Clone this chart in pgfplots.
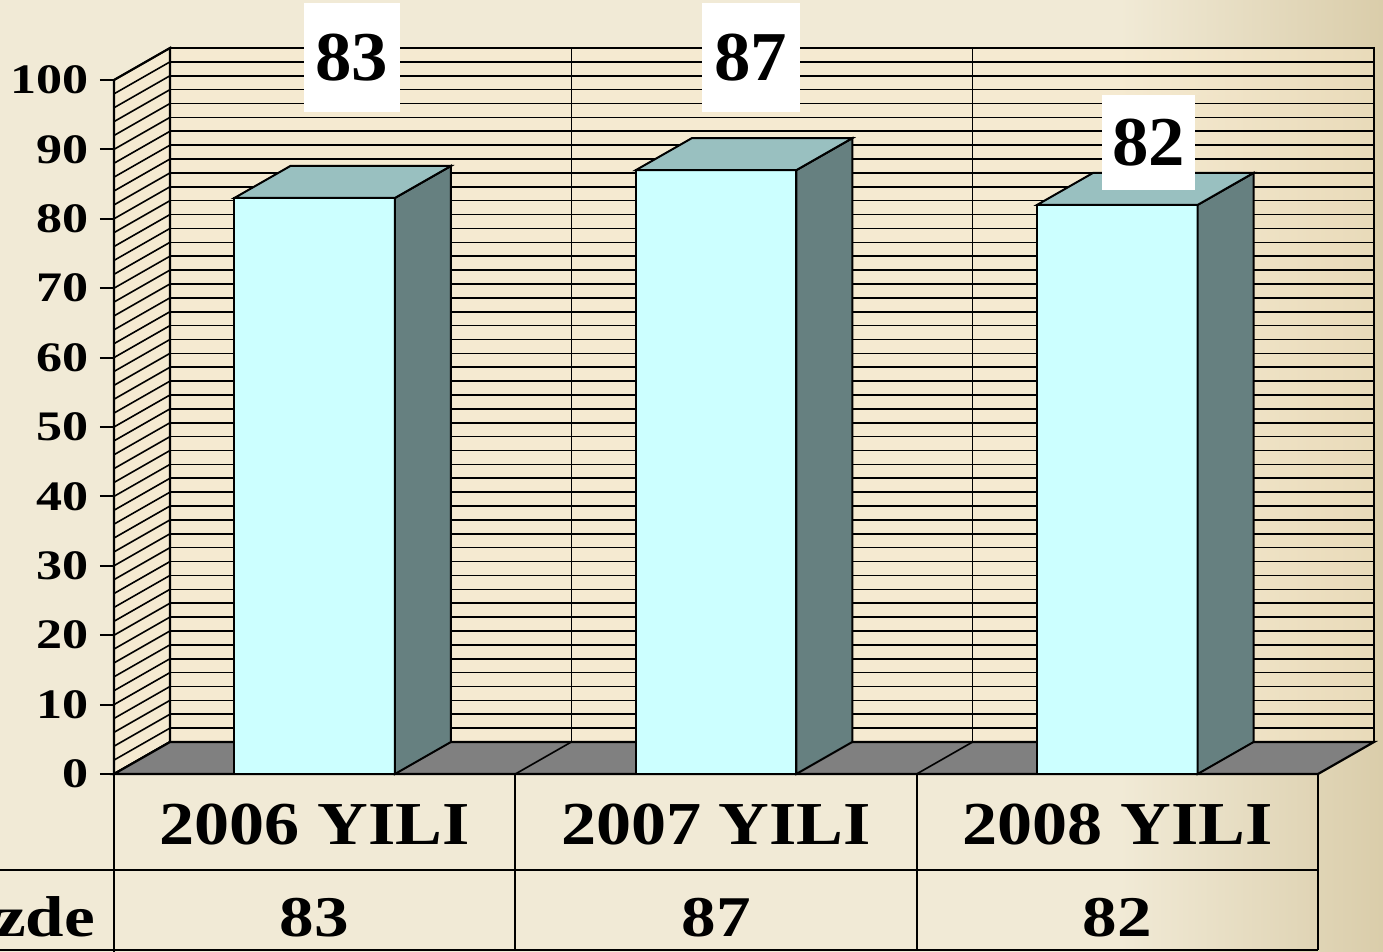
\documentclass[border=0pt]{standalone}
\usepackage{pgfplots}
\pgfplotsset{compat=1.18}
\usepackage{graphicx}
\usepackage{fontspec}
\setmainfont{Liberation Serif}
\definecolor{bgA}{HTML}{F1EAD6}
\definecolor{bgB}{HTML}{DACDAA}
\definecolor{wallc}{HTML}{FBEBCC}
\definecolor{barfront}{HTML}{CCFFFF}
\definecolor{barside}{HTML}{668080}
\definecolor{bartop}{HTML}{99C0C0}
\definecolor{floorc}{HTML}{808080}
\pgfplotsset{
  wallaxis/.style={anchor=origin, major tick length=0pt, xticklabels={}, yticklabels={},
    grid style={black, line width=0.8pt}, axis line style={black, line width=1.1pt}},
}
\begin{document}
\begin{tikzpicture}
\useasboundingbox (0,0) rectangle (691.5pt,476pt);
\fill[bgA] (0,0) rectangle (691.5pt,476pt);
\shade[left color=bgA, right color=bgB] (560pt,0) rectangle (691.5pt,476pt);

% back wall
\begin{axis}[wallaxis, at={(85pt,105pt)}, x={(200.67pt,0pt)}, y={(0pt,3.47pt)},
  xmin=0, xmax=3, ymin=0, ymax=100, xtick={1,2}, ytick={0,2,...,100}, grid=major,
  axis background/.style={fill=wallc, fill opacity=0.45}]
\end{axis}

% side wall
\begin{axis}[wallaxis, at={(57pt,89pt)}, x={(28pt,16pt)}, y={(0pt,3.47pt)},
  xmin=0, xmax=1, ymin=0, ymax=100, xtick=\empty, ytick={0,2,...,100}, ymajorgrids,
  axis background/.style={fill=wallc, fill opacity=0.45}]
\end{axis}

% floor
\begin{axis}[wallaxis, at={(57pt,89pt)}, x={(200.67pt,0pt)}, y={(28pt,16pt)},
  xmin=0, xmax=3, ymin=0, ymax=1, xtick={1,2}, ytick=\empty, xmajorgrids,
  axis background/.style={fill=floorc}]
\end{axis}

% bars
\begin{axis}[at={(57pt,89pt)}, anchor=origin, x={(200.67pt,0pt)}, y={(0pt,3.47pt)},
  xmin=0, xmax=3.1395, ymin=0, ymax=104.611, clip=false,
  axis x line=none, axis y line*=left, y axis line style={draw=none},
  ytick={0,10,...,100}, tick align=outside, major tick length=7pt,
  ytick style={black, line width=1pt},
  /pgf/number format/assume math mode=true,
  yticklabel style={font=\fontsize{21}{24}\selectfont\bfseries, xshift=-2pt},
  yticklabel={\scalebox{1.24}[1]{\pgfmathprintnumber{\tick}}}]
% 2006 YILI : 83
\addplot[fill=barfront, draw=black, line width=1pt] coordinates {(0.3,0) (0.7,0) (0.7,83) (0.3,83)} -- cycle;
\addplot[fill=barside, draw=black, line width=1pt] coordinates {(0.7,0) (0.8395,4.611) (0.8395,87.611) (0.7,83)} -- cycle;
\addplot[fill=bartop, draw=black, line width=1pt] coordinates {(0.3,83) (0.7,83) (0.8395,87.611) (0.4395,87.611)} -- cycle;
% 2007 YILI : 87
\addplot[fill=barfront, draw=black, line width=1pt] coordinates {(1.3,0) (1.7,0) (1.7,87) (1.3,87)} -- cycle;
\addplot[fill=barside, draw=black, line width=1pt] coordinates {(1.7,0) (1.8395,4.611) (1.8395,91.611) (1.7,87)} -- cycle;
\addplot[fill=bartop, draw=black, line width=1pt] coordinates {(1.3,87) (1.7,87) (1.8395,91.611) (1.4395,91.611)} -- cycle;
% 2008 YILI : 82
\addplot[fill=barfront, draw=black, line width=1pt] coordinates {(2.3,0) (2.7,0) (2.7,82) (2.3,82)} -- cycle;
\addplot[fill=barside, draw=black, line width=1pt] coordinates {(2.7,0) (2.8395,4.611) (2.8395,86.611) (2.7,82)} -- cycle;
\addplot[fill=bartop, draw=black, line width=1pt] coordinates {(2.3,82) (2.7,82) (2.8395,86.611) (2.4395,86.611)} -- cycle;

\node[fill=white, inner sep=0pt, minimum width=48pt, minimum height=54.5pt,
  font=\fontsize{35}{40}\selectfont\bfseries] at (axis cs:0.593,103.24) {\scalebox{1.04}[1]{83}};
\node[fill=white, inner sep=0pt, minimum width=49pt, minimum height=54.5pt,
  font=\fontsize{35}{40}\selectfont\bfseries] at (axis cs:1.587,103.24) {\scalebox{1.04}[1]{87}};
\node[fill=white, inner sep=0pt, minimum width=46.5pt, minimum height=47.5pt,
  font=\fontsize{35}{40}\selectfont\bfseries] at (axis cs:2.578,91.0) {\scalebox{1.04}[1]{82}};
\end{axis}

% data table
\draw[line width=1pt] (0,41pt) -- (659pt,41pt);
\draw[line width=1pt] (0,1pt) -- (659pt,1pt);
\draw[line width=1pt] (57pt,89pt) -- (57pt,0pt);
\draw[line width=1pt] (257.5pt,89pt) -- (257.5pt,1pt);
\draw[line width=1pt] (458.5pt,89pt) -- (458.5pt,1pt);
\draw[line width=1pt] (659pt,89pt) -- (659pt,1pt);

\begin{scope}[every node/.style={anchor=base, font=\fontsize{30.5}{36}\selectfont\bfseries}]
\node at (157.25pt,53.5pt) {\scalebox{1.15}[1]{2006 YILI}};
\node at (358pt,53.5pt) {\scalebox{1.15}[1]{2007 YILI}};
\node at (558.75pt,53.5pt) {\scalebox{1.15}[1]{2008 YILI}};
\end{scope}
\begin{scope}[every node/.style={anchor=base, font=\fontsize{28.8}{34}\selectfont\bfseries}]
\node at (157.25pt,7.5pt) {\scalebox{1.2}[1]{83}};
\node at (358pt,7.5pt) {\scalebox{1.2}[1]{87}};
\node at (558.75pt,7.5pt) {\scalebox{1.2}[1]{82}};
\node[anchor=base east] at (51pt,7.5pt) {\scalebox{1.2}[1]{Yüzde}};
\end{scope}
\end{tikzpicture}
\end{document}
